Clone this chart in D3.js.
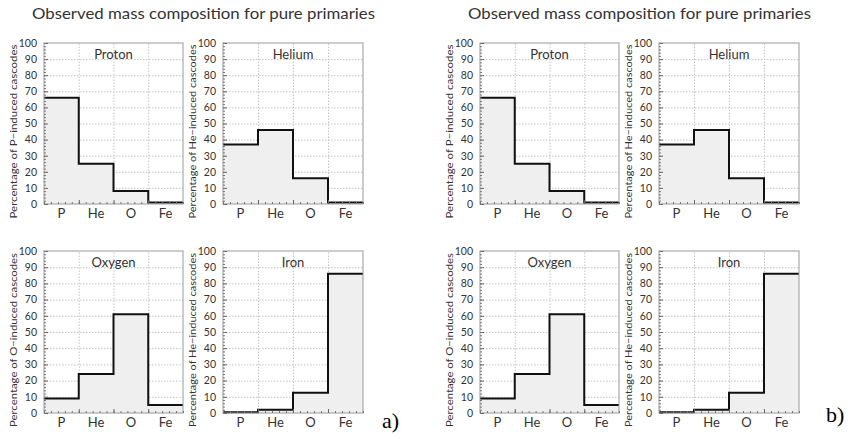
<!DOCTYPE html>
<html>
<head>
<meta charset="utf-8">
<script src="https://cdn.jsdelivr.net/npm/d3@7"></script>
<style>
  body { margin: 0; background: #fff; }
  svg { display: block; }
  text { fill: #333; font-family: Lato, sans-serif; }
</style>
</head>
<body>
<svg id="chart"></svg>
<script>
// Data
const categories = ["P", "He", "O", "Fe"];
const proton = [66, 25, 8, 1];
const helium = [37, 46, 16, 1];
const oxygen = [9, 24, 61, 5];
const iron = [0.5, 2, 12.5, 86];
const plotNames = ["Proton", "Helium", "Oxygen", "Iron"];
const yTitles = [
  "Percentage of P\u2212induced cascodes",
  "Percentage of He\u2212induced cascodes",
  "Percentage of O\u2212induced cascodes",
  "Percentage of He\u2212induced cascodes"
];
const yTicks = d3.range(0, 101, 10);
const panelLabels = ["a)", "b)"];
const mainTitle = "Observed mass composition for pure primaries";

// Dimensions
const width = 854;
const height = 439;
const svg = d3.select("#chart").attr("width", width).attr("height", height);

const series = [proton, helium, oxygen, iron];
// plot boxes inside one panel (left, top, right, bottom)
const boxes = [
  [44, 43, 183, 204],
  [223, 43, 363, 204],
  [44, 251, 183, 413],
  [223, 251, 363, 413]
];
const panelShift = 436;

function drawPlot(g, values, box, name, yTitle) {
  const [x0, y0, x1, y1] = box;

  const x = d3.scaleBand().domain(categories).range([x0, x1]);
  const xLin = d3.scaleLinear().domain([0, categories.length]).range([x0, x1]);
  const y = d3.scaleLinear().domain([0, 100]).range([y1, y0]);

  // Grid
  g.append("g")
    .attr("transform", `translate(${x0},0)`)
    .call(d3.axisLeft(y).tickValues(yTicks.slice(1, -1)).tickSize(-(x1 - x0)).tickFormat(""))
    .call((s) => s.select(".domain").remove())
    .call((s) => s.selectAll("line").attr("stroke", "#c4c4c4").attr("stroke-dasharray", "1.5,1.5"));
  g.append("g")
    .attr("transform", `translate(0,${y1})`)
    .call(d3.axisBottom(xLin).tickValues([1, 2, 3]).tickSize(-(y1 - y0)).tickFormat(""))
    .call((s) => s.select(".domain").remove())
    .call((s) => s.selectAll("line").attr("stroke", "#c4c4c4").attr("stroke-dasharray", "1.5,1.5"));

  // Filled step histogram
  const pts = [];
  values.forEach((v, i) => {
    pts.push([xLin(i), y(v)]);
    pts.push([xLin(i + 1), y(v)]);
  });
  const area = [[xLin(0), y(0)], ...pts, [xLin(categories.length), y(0)]];
  g.append("path")
    .attr("d", d3.line()(area))
    .attr("fill", "#efefef")
    .attr("stroke", "none");
  g.append("path")
    .attr("d", d3.line()(pts))
    .attr("fill", "none")
    .attr("stroke", "#111")
    .attr("stroke-width", 2);

  // Frame
  g.append("rect")
    .attr("x", x0)
    .attr("y", y0)
    .attr("width", x1 - x0)
    .attr("height", y1 - y0)
    .attr("fill", "none")
    .attr("stroke", "#999")
    .attr("stroke-width", 1);

  // Y axis: major + minor ticks inside
  const yAxis = g.append("g")
    .attr("transform", `translate(${x0},0)`)
    .call(d3.axisLeft(y).tickValues(yTicks).tickSize(-4).tickPadding(7));
  yAxis.select(".domain").remove();
  yAxis.selectAll("line").attr("stroke", "#666");
  yAxis.selectAll("text")
    .style("font-family", "Lato, sans-serif")
    .style("font-size", "10.5px")
    .style("fill", "#333");
  g.append("g")
    .attr("transform", `translate(${x0},0)`)
    .call(d3.axisLeft(y).tickValues(d3.range(0, 101, 2)).tickSize(-2).tickFormat(""))
    .call((s) => s.select(".domain").remove())
    .call((s) => s.selectAll("line").attr("stroke", "#777"));

  // X axis ticks
  g.append("g")
    .attr("transform", `translate(0,${y1})`)
    .call(d3.axisBottom(xLin).tickValues(d3.range(0, 4.01, 0.2)).tickSize(-2).tickFormat(""))
    .call((s) => s.select(".domain").remove())
    .call((s) => s.selectAll("line").attr("stroke", "#777"));
  g.append("g")
    .attr("transform", `translate(0,${y1})`)
    .call(d3.axisBottom(xLin).tickValues([1, 2, 3]).tickSize(-4).tickFormat(""))
    .call((s) => s.select(".domain").remove())
    .call((s) => s.selectAll("line").attr("stroke", "#666"));

  // Category labels
  const xAxis = g.append("g")
    .attr("transform", `translate(0,${y1})`)
    .call(d3.axisBottom(x).tickSize(0).tickPadding(5));
  xAxis.select(".domain").remove();
  xAxis.selectAll("text")
    .style("font-family", "Lato, sans-serif")
    .style("font-size", "13px")
    .style("fill", "#333");

  // Plot name
  g.append("text")
    .attr("x", (x0 + x1) / 2)
    .attr("y", y0 + 16)
    .attr("text-anchor", "middle")
    .style("font-size", "13px")
    .text(name);

  // Y title
  g.append("text")
    .attr("transform", `translate(${x0 - 27},${(y0 + y1) / 2 + 8}) rotate(-90)`)
    .attr("text-anchor", "middle")
    .attr("textLength", 174)
    .attr("lengthAdjust", "spacingAndGlyphs")
    .style("font-size", "10px")
    .text(yTitle);
}

panelLabels.forEach((label, p) => {
  const g = svg.append("g").attr("transform", `translate(${p * panelShift},0)`);

  g.append("text")
    .attr("x", 32)
    .attr("y", 19)
    .attr("textLength", 343)
    .attr("lengthAdjust", "spacingAndGlyphs")
    .style("font-size", "15px")
    .text(mainTitle);

  series.forEach((values, i) => {
    drawPlot(g, values, boxes[i], plotNames[i], yTitles[i]);
  });

  g.append("text")
    .attr("x", p === 0 ? 382 : 390)
    .attr("y", p === 0 ? 428 : 422)
    .style("font-family", "'Liberation Serif', 'Times New Roman', serif")
    .style("font-size", "22px")
    .style("fill", "#000")
    .text(label);
});
</script>
</body>
</html>
